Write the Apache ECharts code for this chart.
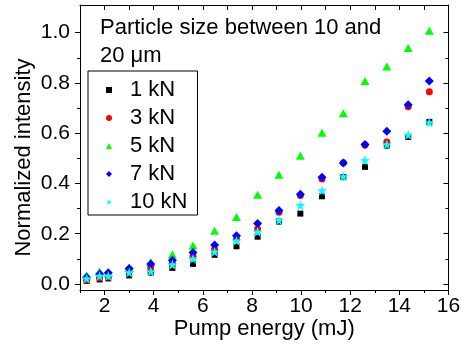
<!DOCTYPE html>
<html>
<head>
<meta charset="utf-8">
<script src="https://cdn.jsdelivr.net/npm/echarts@6/dist/echarts.min.js"></script>
<style>
  html, body { margin: 0; padding: 0; background: #fff; }
  #chart { width: 462px; height: 349px; }
</style>
</head>
<body>
<div id="chart"></div>
<script>
// pump energy (mJ), shared by every series
const energy = [1.27, 1.8, 2.15, 3.0, 3.88, 4.76, 5.6, 6.48, 7.37, 8.23, 9.1, 9.97, 10.85, 11.72, 12.6, 13.49, 14.36, 15.22]

// normalized intensity per pressing force
const kn1 = [0.012, 0.018, 0.022, 0.034, 0.045, 0.064, 0.08, 0.116, 0.15, 0.188, 0.248, 0.28, 0.349, 0.425, 0.466, 0.55, 0.585, 0.645]
const kn3 = [0.015, 0.025, 0.028, 0.052, 0.066, 0.081, 0.11, 0.138, 0.178, 0.219, 0.285, 0.352, 0.418, 0.482, 0.553, 0.565, 0.705, 0.765]
const kn5 = [0.035, 0.05, 0.045, 0.065, 0.087, 0.117, 0.153, 0.212, 0.266, 0.355, 0.435, 0.51, 0.602, 0.679, 0.808, 0.865, 0.939, 1.008]
const kn7 = [0.027, 0.04, 0.045, 0.062, 0.079, 0.094, 0.125, 0.155, 0.192, 0.241, 0.292, 0.357, 0.425, 0.481, 0.555, 0.608, 0.713, 0.808]
const kn10 = [0.022, 0.032, 0.032, 0.046, 0.05, 0.077, 0.1, 0.128, 0.172, 0.208, 0.253, 0.313, 0.372, 0.428, 0.492, 0.555, 0.594, 0.642]

const seriesNames = ['1 kN', '3 kN', '5 kN', '7 kN', '10 kN']

// tick values
const xTicks = [2, 4, 6, 8, 10, 12, 14, 16]
const xMinor = [1, 3, 5, 7, 9, 11, 13, 15]
const xAll = [1, 2, 3, 4, 5, 6, 7, 8, 9, 10, 11, 12, 13, 14, 15, 16]
const yTicks = [0, 0.2, 0.4, 0.6, 0.8, 1.0]
const yMinor = [0.1, 0.3, 0.5, 0.7, 0.9]

const FONT = 'Liberation Sans, Arial, sans-serif'
const STAR = 'path://M0,-10L2.35,-3.24L9.51,-3.09L3.8,1.24L5.88,8.09L0,4L-5.88,8.09L-3.8,1.24L-9.51,-3.09L-2.35,-3.24Z'

const pair = (ys) => energy.map((x, i) => [x, ys[i]])

const line = { show: true, onZero: false, lineStyle: { color: '#000', width: 1 } }
const noLine = { show: false, onZero: false }
const tickStyle = { color: '#000', width: 1 }

function xAxisDef(position, showLine, ticks, length, inside, labels) {
  return {
    type: 'value', position, min: 1, max: 16,
    axisLine: showLine ? line : noLine,
    axisTick: { show: true, customValues: ticks, length, inside, lineStyle: tickStyle },
    axisLabel: labels
      ? { show: true, customValues: labels, margin: 6, color: '#000', fontSize: 21, fontFamily: FONT }
      : { show: false },
    splitLine: { show: false },
  }
}

function yAxisDef(position, showLine, ticks, length, inside, labels) {
  return {
    type: 'value', position, min: -0.024, max: 1.11,
    axisLine: showLine ? line : noLine,
    axisTick: { show: true, customValues: ticks, length, inside, lineStyle: tickStyle },
    axisLabel: labels
      ? { show: true, customValues: labels, margin: 10, color: '#000', fontSize: 21, fontFamily: FONT,
          formatter: (v) => v.toFixed(1) }
      : { show: false },
    splitLine: { show: false },
  }
}

const xMain = xAxisDef('bottom', true, xTicks, 5, false, xTicks)
xMain.name = 'Pump energy (mJ)'
xMain.nameLocation = 'middle'
xMain.nameGap = 28
xMain.nameMoveOverlap = false
xMain.nameTextStyle = { color: '#000', fontSize: 22, fontFamily: FONT, lineHeight: 22 }

const yMain = yAxisDef('left', true, yTicks, 5, false, yTicks)
yMain.name = 'Normalized intensity'
yMain.nameLocation = 'middle'
yMain.nameGap = 45
yMain.nameMoveOverlap = false
yMain.nameTextStyle = { color: '#000', fontSize: 22, fontFamily: FONT, lineHeight: 22, padding: [0, 20, 0, 0] }

const chart = echarts.init(document.getElementById('chart'), null, { renderer: 'canvas' })

chart.setOption({
  animation: false,
  backgroundColor: '#fff',
  textStyle: { fontFamily: FONT },
  title: {
    text: 'Particle size between 10 and\n20 μm',
    left: 100,
    top: 14,
    padding: 0,
    textStyle: { color: '#000', fontSize: 22, fontWeight: 'normal', lineHeight: 28, fontFamily: FONT },
  },
  legend: {
    data: seriesNames,
    orient: 'vertical',
    left: 88,
    top: 71,
    padding: [8, 10, 2, 18],
    itemGap: 6,
    itemWidth: 6,
    itemHeight: 6,
    borderColor: '#000',
    borderWidth: 1,
    borderRadius: 0,
    textStyle: { color: '#000', fontSize: 22, lineHeight: 22, fontFamily: FONT, padding: [0, 0, 0, 13] },
  },
  grid: { left: 80, right: 13.5, top: 5, bottom: 59, outerBoundsMode: 'none' },
  xAxis: [
    xMain,
    xAxisDef('bottom', false, xMinor, 3, false, null),
    xAxisDef('top', true, xAll, 5, true, null),
  ],
  yAxis: [
    yMain,
    yAxisDef('left', false, yMinor, 3, false, null),
    yAxisDef('right', true, yTicks, 5, true, null),
    yAxisDef('right', false, yMinor, 3, true, null),
  ],
  series: [
    { name: '1 kN', type: 'scatter', symbol: 'rect', symbolSize: 6, itemStyle: { color: '#000000', opacity: 1 }, data: pair(kn1) },
    { name: '3 kN', type: 'scatter', symbol: 'circle', symbolSize: 7, itemStyle: { color: '#ff0000', opacity: 1 }, data: pair(kn3) },
    { name: '5 kN', type: 'scatter', symbol: 'triangle', symbolSize: [9, 8], itemStyle: { color: '#00ff00', opacity: 1 }, data: pair(kn5) },
    { name: '7 kN', type: 'scatter', symbol: 'diamond', symbolSize: 9, itemStyle: { color: '#0000ff', opacity: 1 }, data: pair(kn7) },
    { name: '10 kN', type: 'scatter', symbol: STAR, symbolSize: 10, itemStyle: { color: '#00ffff', opacity: 1 }, data: pair(kn10) },
  ],
})
</script>
</body>
</html>
